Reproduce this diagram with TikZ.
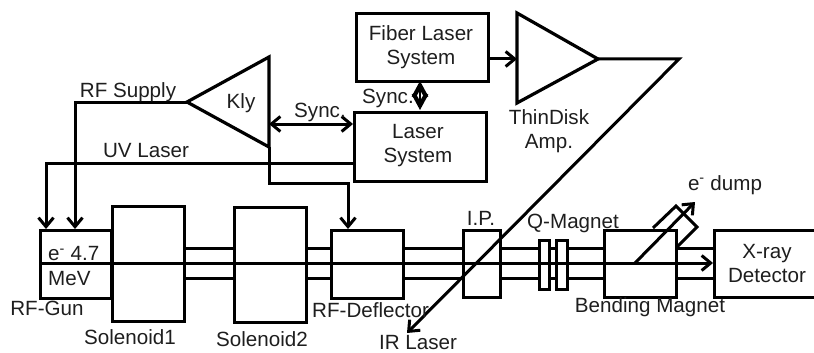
\documentclass[tikz,border=0pt]{standalone}
\usepackage{fontspec}
\setmainfont{Liberation Sans}
\usetikzlibrary{arrows.meta}
\definecolor{ink}{HTML}{1E1E1E}
\tikzset{
  x=1pt,y=-1pt,
  boxn/.style={draw=black,line width=3pt,rectangle,inner sep=0pt,anchor=north west,line join=miter},
  beamline/.style={draw=black,line width=3pt},
  wire/.style={draw=black,line width=3pt,line join=miter},
  arr/.style={wire,-{Straight Barb[length=9pt,width=15pt,line width=3pt]}},
  darr/.style={wire,{Straight Barb[length=9pt,width=15pt,line width=3pt]}-{Straight Barb[length=9pt,width=15pt,line width=3pt]}},
  lbl/.style={text=ink,inner sep=0pt,font=\fontsize{20.6pt}{24pt}\selectfont,align=center},
  tri/.style={draw=black,line width=3.2pt,line join=miter},
}
\begin{document}
\begin{tikzpicture}
\useasboundingbox (0,0) rectangle (814,353);
% boxes
\node[boxn,minimum width=71pt,minimum height=68pt] (gun) at (39,229) {};
\node[boxn,minimum width=72pt,minimum height=115pt] (sol1) at (111,205) {};
\node[boxn,minimum width=72pt,minimum height=115pt] (sol2) at (233,206) {};
\node[boxn,minimum width=72pt,minimum height=68pt] (defl) at (330,229) {};
\node[boxn,minimum width=37pt,minimum height=67pt] (ip) at (462,229) {};
\node[boxn,minimum width=10pt,minimum height=49pt] (q1) at (538,239) {};
\node[boxn,minimum width=11pt,minimum height=49pt] (q2) at (555,239) {};
\node[boxn,minimum width=72pt,minimum height=67pt] (bend) at (603,229) {};
\node[boxn,minimum width=110pt,minimum height=67pt] (det) at (713,229) {};
\node[boxn,minimum width=132pt,minimum height=68pt] (fiber) at (355,12) {};
\node[boxn,minimum width=132pt,minimum height=69pt] (laser) at (353,111) {};
% triangles
\coordinate (klyTip) at (187,102);
\coordinate (klyTop) at (269,57);
\coordinate (klyBot) at (269,147);
\draw[tri] (klyTip) -- (klyTop) -- (klyBot) -- cycle;
\coordinate (ampTop) at (517,13);
\coordinate (ampBot) at (517,103);
\coordinate (ampTip) at (598,59);
\draw[tri] (ampTop) -- (ampTip) -- (ampBot) -- cycle;
% beam levels
\coordinate (upY) at (0,248);
\coordinate (midY) at (0,263);
\coordinate (loY) at (0,278);
\foreach \a/\b in {sol1/sol2,sol2/defl,defl/ip,ip/q1,q1/q2,q2/bend,bend/det}{
  \draw[beamline] (\a.east |- upY) -- (\b.west |- upY);
  \draw[beamline] (\a.east |- loY) -- (\b.west |- loY);
}
\draw[arr] (gun.west |- midY) -- (det.west |- midY);
% feeds
\coordinate (rfC) at (75,102);
\coordinate (rfE) at (75,229);
\draw[arr] (klyTip) -- (rfC) -- (rfE);
\coordinate (uvS) at (353,163);
\coordinate (uvC) at (46,163);
\coordinate (uvE) at (46,229);
\draw[arr] (uvS) -- (uvC) -- (uvE);
\coordinate (dC1) at (269,183);
\coordinate (dC2) at (348,183);
\coordinate (dE) at (348,229);
\draw[arr] (klyBot) -- (dC1) -- (dC2) -- (dE);
\coordinate (syncK) at (269,124);
\coordinate (syncL) at (353,124);
\draw[darr] (syncK) -- (syncL);
\coordinate (vsTop) at (420,81);
\coordinate (vsBot) at (420,110);
\draw[wire,line width=2pt,{Straight Barb[length=12pt,width=13pt,line width=4.2pt]}-{Straight Barb[length=12pt,width=13pt,line width=4.2pt]}] (vsTop) -- (vsBot);
\coordinate (fibOut) at (487,59);
\coordinate (ampIn) at (517,59);
\draw[arr] (fibOut) -- (ampIn);
% IR line
\coordinate (irC) at (679,59);
\coordinate (irE) at (407,333);
\draw[arr] (ampTip) -- (irC) -- (irE);
% dump
\coordinate (dumpS) at (635,263);
\coordinate (dumpE) at (695,202);
\draw[arr] (dumpS) -- (dumpE);
\coordinate (dA) at (653,228);
\coordinate (dB) at (676,206);
\coordinate (dC) at (697,227);
\coordinate (dD) at (677,247);
\draw[wire] (dA) -- (dB) -- (dC) -- (dD);
% labels
\node[lbl,anchor=west] (t1) at (48,254) {e\textsuperscript{-} 4.7};
\node[lbl,anchor=west] (t2) at (48,279) {MeV};
\node[lbl] (t3) at (47,308) {RF-Gun};
\node[lbl] (t4) at (130,337) {Solenoid1};
\node[lbl] (t5) at (262,339) {Solenoid2};
\node[lbl,anchor=west] (t6) at (312,310) {RF-Deflector};
\node[lbl] (t7) at (481,218) {I.P.};
\node[lbl] (t8) at (573,223) {Q-Magnet};
\node[lbl] (t9) at (650,307) {Bending Magnet};
\node[lbl] (t10) at (725,185) {e\textsuperscript{-} dump};
\node[lbl] (t11) at (767,264) {X-ray\\Detector};
\node[lbl] (t12) at (418,343) {IR Laser};
\node[lbl] (t13) at (128,92) {RF Supply};
\node[lbl] (t14) at (241,103) {Kly};
\node[lbl] (t15) at (320,112) {Sync.};
\node[lbl] (t16) at (388,98) {Sync.};
\node[lbl] (t17) at (146,151) {UV Laser};
\node[lbl] (t18) at (421,47) {Fiber Laser\\System};
\node[lbl] (t19) at (418,146) {Laser\\System};
\node[lbl] (t20) at (549,131) {ThinDisk\\Amp.};
\end{tikzpicture}
\end{document}
